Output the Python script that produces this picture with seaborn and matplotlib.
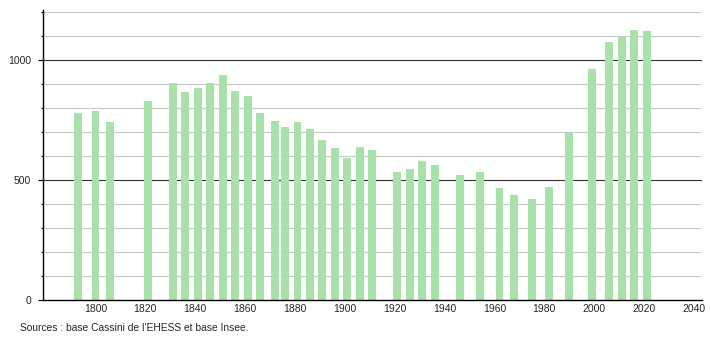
import matplotlib
matplotlib.use("Agg")
import matplotlib.pyplot as plt
import seaborn as sns
import pandas as pd
from matplotlib.ticker import MultipleLocator

years = [1793, 1800, 1806, 1821, 1831, 1836, 1841, 1846, 1851, 1856, 1861, 1866,
         1872, 1876, 1881, 1886, 1891, 1896, 1901, 1906, 1911, 1921, 1926, 1931,
         1936, 1946, 1954, 1962, 1968, 1975, 1982, 1990, 1999, 2006, 2011, 2016, 2021]
population = [780, 787, 742, 830, 903, 868, 885, 903, 936, 872, 850, 780,
              747, 721, 742, 714, 667, 635, 592, 639, 625, 533, 546, 579,
              562, 521, 533, 468, 437, 421, 471, 696, 962, 1075, 1097, 1125, 1121]
x_ticks = [1800, 1820, 1840, 1860, 1880, 1900, 1920, 1940, 1960, 1980, 2000, 2020, 2040]
y_ticks = [0, 500, 1000]
source_text = "Sources : base Cassini de l'EHESS et base Insee."

df = pd.DataFrame({"year": years, "pop": population})

sns.set_style("white")
plt.rcParams['font.family'] = ['Liberation Sans', 'DejaVu Sans']

fig = plt.figure(figsize=(7.1, 3.4), dpi=100)
ax = fig.add_axes([43/710, 40/340, 659/710, 290/340])

XMIN, XMAX = 1778.95, 2043.2

for v in range(100, 1300, 100):
    if v % 500 == 0:
        ax.axhline(v, color="#333333", lw=0.8, zorder=0)
    else:
        ax.axhline(v, color="#c8c8c8", lw=0.8, zorder=0)

sns.barplot(data=df, x="year", y="pop", native_scale=True, width=0.8,
            color="#a8e2aa", saturation=1, ax=ax, zorder=2, linewidth=0)

ax.set_xlim(XMIN, XMAX)
ax.set_ylim(0, 1208)
ax.set_xticks(x_ticks)
ax.set_xticklabels([str(t) for t in x_ticks])
ax.set_yticks(y_ticks)
ax.set_yticklabels([str(t) for t in y_ticks])
ax.yaxis.set_minor_locator(MultipleLocator(100))
ax.tick_params(axis="y", which="major", length=3.6, width=0.8, color="black", labelsize=7.5, pad=5, left=True)
ax.tick_params(axis="y", which="minor", length=1.8, width=0.8, color="black", left=True)
ax.tick_params(axis="x", which="major", length=0, labelsize=7.5, pad=3)
ax.set_xlabel("")
ax.set_ylabel("")
for s in ["top", "right"]:
    ax.spines[s].set_visible(False)
for s in ["left", "bottom"]:
    ax.spines[s].set_color("black")
    ax.spines[s].set_linewidth(1.0)
ax.grid(False)

fig.text(20/710, 1 - 328/340, source_text, fontsize=7.4, va="center", ha="left")

fig.savefig("out.png", dpi=100)
